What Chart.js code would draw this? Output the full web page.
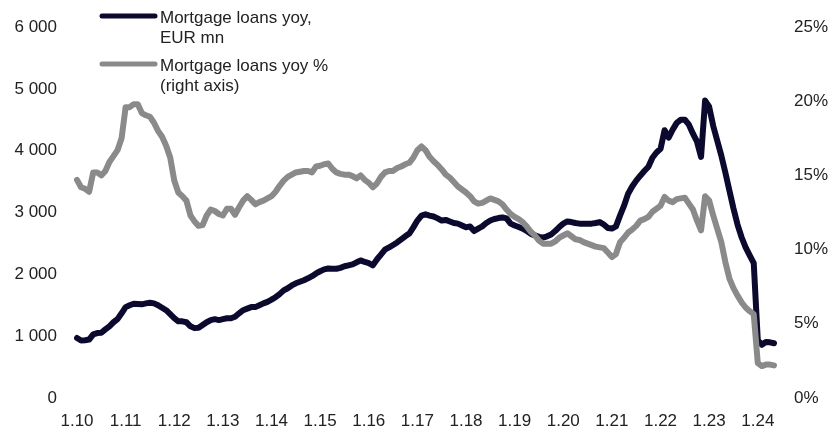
<!DOCTYPE html>
<html>
<head>
<meta charset="utf-8">
<script src="https://cdn.jsdelivr.net/npm/chart.js@4.4.1/dist/chart.umd.min.js"></script>
<style>
  html, body { margin: 0; padding: 0; background: #fff; }
  #wrap { width: 830px; height: 429px; position: relative; }
</style>
</head>
<body>
<div id="wrap"><canvas id="loans"></canvas></div>
<script>
// monthly, 1.10 (Jan 2010) .. 5.24
const loansEur = [
  970, 930, 935, 945, 1030, 1050, 1055, 1110, 1160, 1225, 1275, 1370,
  1470, 1500, 1525, 1520, 1515, 1530, 1540, 1530, 1500, 1460, 1420, 1355,
  1290, 1240, 1240, 1225, 1160, 1130, 1135, 1180, 1225, 1260, 1275, 1260,
  1275, 1290, 1290, 1315, 1370, 1420, 1445, 1470, 1470, 1500, 1530, 1555,
  1590, 1630, 1680, 1740, 1775, 1820, 1855, 1880, 1905, 1935, 1970, 2015,
  2050, 2080, 2095, 2090, 2090, 2105, 2130, 2145, 2160, 2195, 2225, 2200,
  2180, 2145, 2240, 2320, 2400, 2435, 2475, 2515, 2565, 2615, 2660, 2760,
  2870, 2950, 2970, 2950, 2935, 2905, 2870, 2880, 2855, 2830, 2820, 2790,
  2760, 2775, 2700, 2740, 2775, 2830, 2870, 2895, 2910, 2920, 2905, 2820,
  2790, 2765, 2740, 2700, 2655, 2630, 2605, 2595, 2615, 2645, 2700, 2765,
  2820, 2855, 2845, 2830, 2820, 2820, 2820, 2820, 2830, 2845, 2805, 2750,
  2740, 2775, 2950, 3110, 3305, 3420, 3515, 3595, 3670, 3740, 3885, 3970,
  4030, 4330, 4210, 4340, 4450, 4500, 4500, 4420, 4275, 4145, 3900, 4810,
  4710, 4400, 4160, 3920, 3645, 3355, 3065, 2805, 2600, 2435, 2305, 2180,
  935, 860, 905, 900, 885
];

const loansPct = [
  14.7, 14.2, 14.1, 13.9, 15.2, 15.2, 15.0, 15.3, 15.9, 16.3, 16.7, 17.5,
  19.6, 19.6, 19.8, 19.8, 19.2, 19.05, 18.95, 18.55, 18.0, 17.6, 17.0, 16.2,
  14.65, 13.85, 13.6, 13.3, 12.3, 11.9, 11.6, 11.65, 12.3, 12.7, 12.6, 12.4,
  12.3, 12.75, 12.75, 12.35, 12.85, 13.3, 13.6, 13.35, 13.05, 13.2, 13.3, 13.45,
  13.6, 13.9, 14.3, 14.65, 14.9, 15.05, 15.2, 15.25, 15.3, 15.3, 15.2, 15.6,
  15.65, 15.75, 15.8, 15.45, 15.2, 15.1, 15.05, 15.05, 14.95, 14.8, 15.0, 14.7,
  14.5, 14.2, 14.45, 14.9, 15.2, 15.3, 15.3, 15.5, 15.6, 15.75, 15.85, 16.2,
  16.7, 16.95, 16.7, 16.25, 15.95, 15.7, 15.4, 15.05, 14.85, 14.55, 14.25, 14.05,
  13.85, 13.6, 13.25, 13.1, 13.15, 13.3, 13.45, 13.35, 13.25, 13.05, 12.7, 12.4,
  12.2, 12.05, 11.85, 11.55, 11.2, 10.95, 10.6, 10.4, 10.4, 10.4, 10.55, 10.8,
  10.95, 11.1, 10.9, 10.7, 10.65, 10.5, 10.4, 10.3, 10.2, 10.15, 10.1, 9.8,
  9.5, 9.7, 10.5, 10.8, 11.15, 11.35, 11.6, 11.95, 12.05, 12.2, 12.55, 12.75,
  12.95, 13.55, 13.3, 13.2, 13.4, 13.45, 13.5, 13.1, 12.7, 11.95, 11.3, 13.6,
  13.3, 12.3, 11.4, 10.5, 9.15, 8.05, 7.4, 6.9, 6.45, 6.1, 5.85, 5.65,
  2.35, 2.15, 2.25, 2.25, 2.2
];

// labels month.yy, only January is shown on the axis
const months = [];
for (let i = 0; i < loansEur.length; i++) {
  const m = (i % 12) + 1;
  const yy = 10 + Math.floor(i / 12);
  months.push(m + '.' + yy);
}

const font = { family: '"Liberation Sans", Arial, sans-serif', size: 17 };
const textColor = '#222';

const legendLines = {
  id: 'legendLines',
  afterDraw(chart) {
    const ctx = chart.ctx;
    ctx.save();
    ctx.font = '17px "Liberation Sans", Arial, sans-serif';
    ctx.fillStyle = textColor;
    ctx.textBaseline = 'alphabetic';
    chart.data.datasets.forEach((ds, i) => {
      const y = 16 + i * 48;
      ctx.strokeStyle = ds.borderColor;
      ctx.lineWidth = 5;
      ctx.lineCap = 'round';
      ctx.beginPath();
      ctx.moveTo(102, y);
      ctx.lineTo(155, y);
      ctx.stroke();
      ds.label.split('\n').forEach((t, j) => {
        ctx.fillText(t, 160, y + 7 + j * 20);
      });
    });
    ctx.restore();
  }
};

const ctx = document.getElementById('loans').getContext('2d');

window.loansChart = new Chart(ctx, {
  type: 'line',
  data: {
    labels: months,
    datasets: [
      {
        label: 'Mortgage loans yoy,\nEUR mn',
        data: loansEur,
        yAxisID: 'y',
        borderColor: '#0b0a2e',
        borderWidth: 6,
        pointRadius: 0,
        tension: 0,
        borderCapStyle: 'round',
        borderJoinStyle: 'round',
        order: 1
      },
      {
        label: 'Mortgage loans yoy %\n(right axis)',
        data: loansPct,
        yAxisID: 'y1',
        borderColor: '#8a8a8a',
        borderWidth: 6,
        pointRadius: 0,
        tension: 0,
        borderCapStyle: 'round',
        borderJoinStyle: 'round',
        order: 0
      }
    ]
  },
  options: {
    responsive: true,
    maintainAspectRatio: false,
    animation: false,
    layout: {
      padding: { top: 27, left: 0, right: 0, bottom: 0 }
    },
    plugins: {
      legend: { display: false },
      tooltip: { enabled: false }
    },
    scales: {
      x: {
        grid: { display: false },
        border: { display: false },
        ticks: {
          autoSkip: false,
          maxRotation: 0,
          padding: 5,
          color: textColor,
          font: font,
          callback: function (value) {
            const l = this.getLabelForValue(value);
            return l.startsWith('1.') ? l : '';
          }
        },
        afterFit: (scale) => { scale.height = 31; }
      },
      y: {
        position: 'left',
        min: 0,
        max: 6000,
        grid: { display: false },
        border: { display: false },
        ticks: {
          stepSize: 1000,
          padding: 12,
          color: textColor,
          font: font,
          callback: (v) => v >= 1000 ? Math.floor(v / 1000) + ' ' + String(v % 1000).padStart(3, '0') : String(v)
        },
        afterFit: (scale) => { scale.width = 77; }
      },
      y1: {
        position: 'right',
        min: 0,
        max: 25,
        grid: { display: false },
        border: { display: false },
        ticks: {
          stepSize: 5,
          padding: 12,
          color: textColor,
          font: font,
          callback: (v) => v + '%'
        },
        afterFit: (scale) => { scale.width = 56; }
      }
    }
  },
  plugins: [legendLines]
});
</script>
</body>
</html>
